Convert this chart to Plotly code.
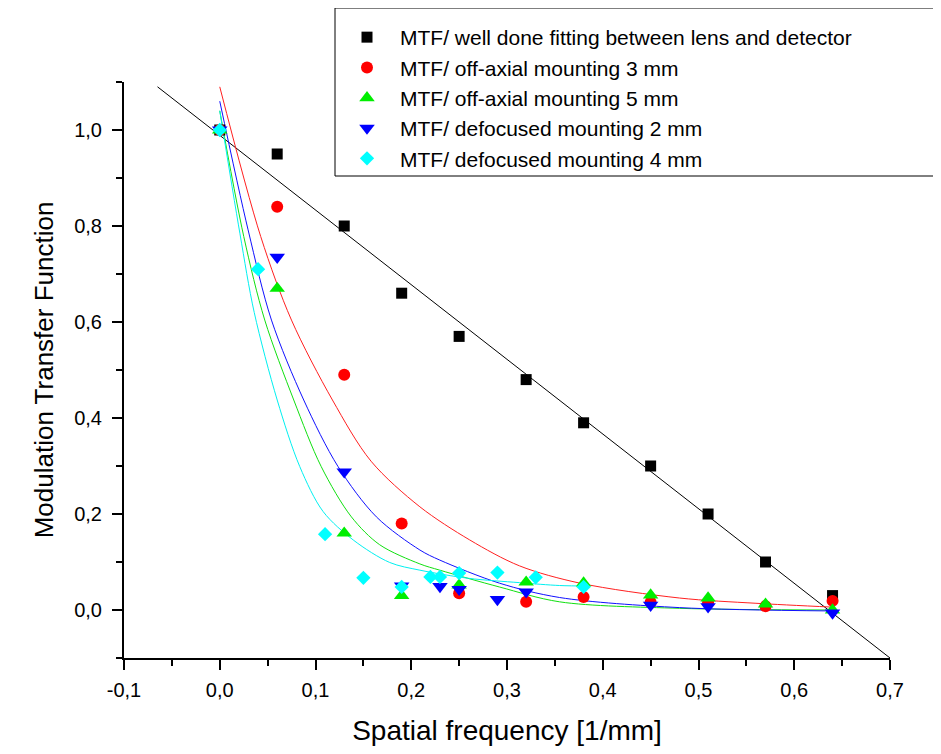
import plotly.graph_objects as go

# ---------------- data ----------------
freq_black = [0.0, 0.06, 0.13, 0.19, 0.25, 0.32, 0.38, 0.45, 0.51, 0.57, 0.64]
mtf_black = [1.0, 0.95, 0.80, 0.66, 0.57, 0.48, 0.39, 0.30, 0.20, 0.10, 0.03]

freq_red = [0.0, 0.06, 0.13, 0.19, 0.25, 0.32, 0.38, 0.45, 0.51, 0.57, 0.64]
mtf_red = [1.0, 0.84, 0.49, 0.18, 0.035, 0.017, 0.027, 0.016, 0.015, 0.008, 0.019]

freq_green = [0.0, 0.06, 0.13, 0.19, 0.25, 0.32, 0.38, 0.45, 0.51, 0.57, 0.64]
mtf_green = [1.0, 0.67, 0.16, 0.03, 0.052, 0.058, 0.056, 0.031, 0.025, 0.012, 0.0]

freq_blue = [0.0, 0.06, 0.13, 0.19, 0.23, 0.25, 0.29, 0.32, 0.45, 0.51, 0.64]
mtf_blue = [1.0, 0.735, 0.288, 0.05, 0.049, 0.043, 0.022, 0.038, 0.01, 0.007, -0.006]

freq_cyan = [0.0, 0.04, 0.11, 0.15, 0.19, 0.22, 0.23, 0.25, 0.29, 0.33, 0.38]
mtf_cyan = [1.0, 0.71, 0.158, 0.067, 0.048, 0.069, 0.069, 0.077, 0.078, 0.068, 0.048]

# fitted curves, points
fit_black_x = [-0.065, 0.70]
fit_black_y = [1.09, -0.10]

fit_red_x = [0.0, 0.0428, 0.0749, 0.1177, 0.158, 0.209, 0.261, 0.313, 0.376, 0.48, 0.56, 0.64]
fit_red_y = [1.09, 0.778, 0.604, 0.4375, 0.31, 0.215, 0.146, 0.092, 0.056, 0.025, 0.014, 0.006]

fit_green_x = [0.0, 0.0251, 0.047, 0.0773, 0.106, 0.1375, 0.167, 0.209, 0.2298, 0.292, 0.355, 0.48, 0.64]
fit_green_y = [1.04, 0.778, 0.604, 0.4375, 0.2986, 0.194, 0.136, 0.096, 0.083, 0.048, 0.017, 0.0035, 0.0]

fit_blue_x = [0.0, 0.0296, 0.054, 0.0877, 0.1236, 0.1636, 0.209, 0.2298, 0.292, 0.355, 0.48, 0.64]
fit_blue_y = [1.06, 0.792, 0.604, 0.4375, 0.2986, 0.194, 0.125, 0.104, 0.056, 0.026, 0.005, -0.002]

fit_cyan_x = [0.0, 0.021, 0.036, 0.060, 0.0836, 0.108, 0.14, 0.1775, 0.209, 0.26, 0.313, 0.355, 0.385]
fit_cyan_y = [1.04, 0.785, 0.62, 0.4375, 0.2986, 0.205, 0.145, 0.099, 0.083, 0.066, 0.057, 0.051, 0.05]

series_names = [
    "MTF/ well done fitting between lens and detector",
    "MTF/ off-axial mounting 3 mm",
    "MTF/ off-axial mounting 5 mm",
    "MTF/ defocused mounting 2 mm",
    "MTF/ defocused mounting 4 mm",
]

x_tick_vals = [-0.1, 0.0, 0.1, 0.2, 0.3, 0.4, 0.5, 0.6, 0.7]
x_tick_text = ["-0,1", "0,0", "0,1", "0,2", "0,3", "0,4", "0,5", "0,6", "0,7"]
y_tick_vals = [0.0, 0.2, 0.4, 0.6, 0.8, 1.0]
y_tick_text = ["0,0", "0,2", "0,4", "0,6", "0,8", "1,0"]

FONT = "Liberation Sans, Arial, sans-serif"

fig = go.Figure()

# fit lines
fits = [
    (fit_black_x, fit_black_y, "black", "linear"),
    (fit_red_x, fit_red_y, "#ff2020", "spline"),
    (fit_green_x, fit_green_y, "#10e010", "spline"),
    (fit_blue_x, fit_blue_y, "#1010ff", "spline"),
    (fit_cyan_x, fit_cyan_y, "#00f0f0", "spline"),
]
for fx, fy, col, shape in fits:
    fig.add_trace(go.Scatter(
        x=fx, y=fy, mode="lines", showlegend=False, hoverinfo="skip",
        line=dict(color=col, width=1, shape=shape, smoothing=0.9),
    ))

markers = [
    (freq_black, mtf_black, "black", "square", 11),
    (freq_red, mtf_red, "#ff0000", "circle", 12),
    (freq_green, mtf_green, "#00ee00", "triangle-up", 13.5),
    (freq_blue, mtf_blue, "#0000ff", "triangle-down", 13.5),
    (freq_cyan, mtf_cyan, "#00ffff", "diamond", 11),
]
for (mx, my, col, sym, sz), name in zip(markers, series_names):
    fig.add_trace(go.Scatter(
        x=mx, y=my, mode="markers", name=name,
        marker=dict(color=col, symbol=sym, size=sz, line=dict(width=0)),
    ))

W, H = 941, 754
PAGE_OFF = 8  # the page body adds an 8 px offset
# plot area wanted in page pixels: x 124..890, y 82..658
PX0, PX1, PY0, PY1 = 124, 890, 82, 658
L = PX0 - PAGE_OFF
T = PY0 - PAGE_OFF
R = W - (PX1 - PAGE_OFF)
B = H - (PY1 - PAGE_OFF)

def px_to_paper_x(px):
    return (px - PX0) / (PX1 - PX0)

def px_to_paper_y(py):
    return (PY1 - py) / (PY1 - PY0)

fig.add_shape(
    type="rect", xref="paper", yref="paper",
    x0=px_to_paper_x(335), x1=px_to_paper_x(955),
    y0=px_to_paper_y(176), y1=px_to_paper_y(8),
    line=dict(color="black", width=1), fillcolor="white", layer="below",
)

fig.update_layout(
    width=W, height=H,
    margin=dict(l=L, r=R, t=T, b=B, autoexpand=False),
    paper_bgcolor="white", plot_bgcolor="white",
    font=dict(family=FONT, color="black", size=20),
    showlegend=True,
    legend=dict(
        x=px_to_paper_x(334), y=px_to_paper_y(17),
        xanchor="left", yanchor="top",
        bgcolor="rgba(0,0,0,0)", borderwidth=0,
        font=dict(family=FONT, size=21, color="black"),
        itemwidth=56,
    ),
    xaxis=dict(
        range=[-0.1, 0.7],
        tickmode="array", tickvals=x_tick_vals, ticktext=x_tick_text,
        ticks="outside", ticklen=10, tickwidth=2, tickcolor="black",
        showline=True, linewidth=2, linecolor="black",
        showgrid=False, zeroline=False,
        ticklabelstandoff=3,
        tickfont=dict(size=20),
        minor=dict(tick0=0, dtick=0.05, ticks="outside", ticklen=6,
                   tickwidth=2, tickcolor="black", showgrid=False),
        title=dict(text="Spatial frequency [1/mm]", font=dict(size=28), standoff=20),
    ),
    yaxis=dict(
        range=[-0.1, 1.1],
        tickmode="array", tickvals=y_tick_vals, ticktext=y_tick_text,
        ticks="outside", ticklen=10, tickwidth=2, tickcolor="black",
        showline=True, linewidth=2, linecolor="black",
        showgrid=False, zeroline=False,
        ticklabelstandoff=6,
        tickfont=dict(size=20),
        minor=dict(tick0=0, dtick=0.1, ticks="outside", ticklen=6,
                   tickwidth=2, tickcolor="black", showgrid=False),
        title=dict(text="Modulation Transfer Function", font=dict(size=26), standoff=13),
    ),
)

fig.write_html("out.html")
